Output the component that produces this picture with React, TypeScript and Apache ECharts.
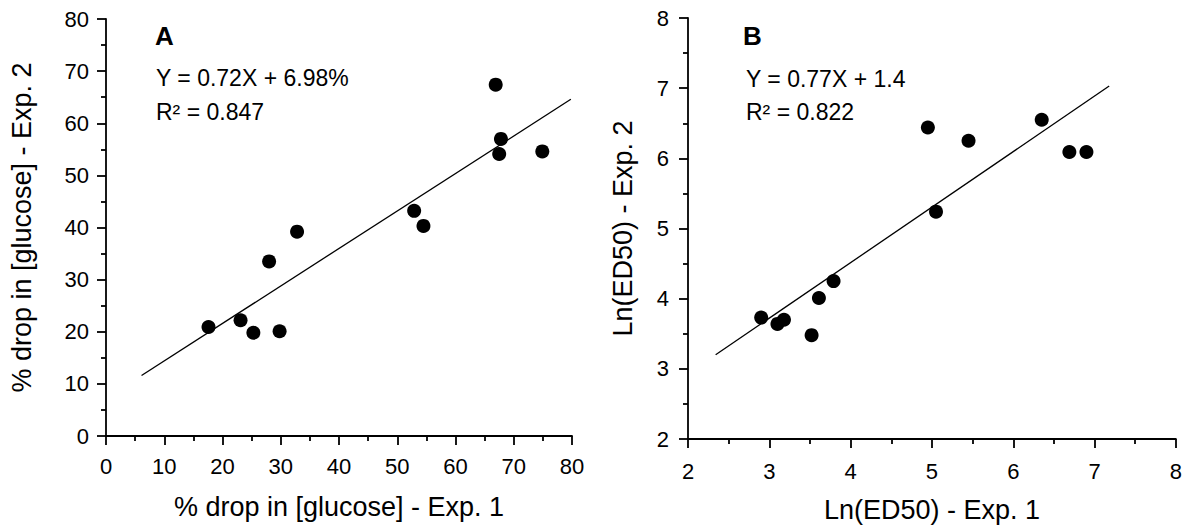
import React, { useEffect, useRef } from "react";
import * as echarts from "echarts";

// Panel A: % drop in [glucose]
const aExp1 = [17.6, 23.1, 25.3, 29.8, 28.0, 32.8, 52.9, 54.5, 66.9, 67.8, 67.5, 74.9];
const aExp2 = [20.9, 22.2, 19.8, 20.1, 33.5, 39.2, 43.2, 40.3, 67.4, 57.0, 54.1, 54.6];
const aFitX = [6.1, 79.8];
const aFitY = [11.6, 64.6];

// Panel B: Ln(ED50)
const bExp1 = [2.9, 3.1, 3.18, 3.52, 3.61, 3.79, 4.95, 5.05, 5.45, 6.35, 6.69, 6.9];
const bExp2 = [3.73, 3.64, 3.7, 3.48, 4.01, 4.25, 6.44, 5.24, 6.25, 6.55, 6.09, 6.09];
const bFitX = [2.34, 7.18];
const bFitY = [3.2, 7.03];

const panelLetters = ["A", "B"];
const equations = ["Y = 0.72X + 6.98%", "Y = 0.77X + 1.4"];
const r2Texts = ["R² = 0.847", "R² = 0.822"];
const xTitles = ["% drop in [glucose] - Exp. 1", "Ln(ED50) - Exp. 1"];
const yTitles = ["% drop in [glucose] - Exp. 2", "Ln(ED50) - Exp. 2"];

const FONT = "'Liberation Sans', Arial, Helvetica, sans-serif";

export default function App() {
  const ref = useRef<HTMLDivElement>(null);

  useEffect(() => {
    if (!ref.current) return;
    const chart = echarts.init(ref.current, undefined, { renderer: "svg" });

    const axisCommon = {
      type: "value" as const,
      axisLine: { show: true, lineStyle: { color: "#000", width: 1.8 } },
      axisTick: { show: true, inside: false, length: 9, lineStyle: { color: "#000", width: 1.8 } },
      minorTick: { show: true, splitNumber: 2, length: 5, lineStyle: { color: "#000", width: 1.8 } },
      splitLine: { show: false },
      minorSplitLine: { show: false },
      axisLabel: { color: "#000", fontSize: 22, fontFamily: FONT },
      nameLocation: "middle" as const,
      nameTextStyle: { color: "#000", fontSize: 27, fontFamily: FONT },
    };

    const zipPts = (xs: number[], ys: number[]) => xs.map((x, i) => [x, ys[i]]);

    const option = {
      animation: false,
      backgroundColor: "#fff",
      grid: [
        { left: 106, top: 19, width: 466, height: 417 },
        { left: 688, top: 18, width: 488, height: 421 },
      ],
      xAxis: [
        {
          ...axisCommon,
          gridIndex: 0,
          min: 0,
          max: 80,
          interval: 10,
          name: xTitles[0],
          nameGap: 57,
          axisLabel: { ...axisCommon.axisLabel, margin: 19 },
        },
        {
          ...axisCommon,
          gridIndex: 1,
          min: 2,
          max: 8,
          interval: 1,
          name: xTitles[1],
          nameGap: 57,
          axisLabel: { ...axisCommon.axisLabel, margin: 21 },
        },
      ],
      yAxis: [
        {
          ...axisCommon,
          gridIndex: 0,
          min: 0,
          max: 80,
          interval: 10,
          name: yTitles[0],
          nameGap: 71,
          axisLabel: { ...axisCommon.axisLabel, margin: 17 },
        },
        {
          ...axisCommon,
          gridIndex: 1,
          min: 2,
          max: 8,
          interval: 1,
          name: yTitles[1],
          nameGap: 52,
          axisLabel: { ...axisCommon.axisLabel, margin: 19 },
        },
      ],
      series: [
        {
          type: "line",
          xAxisIndex: 0,
          yAxisIndex: 0,
          data: zipPts(aFitX, aFitY),
          showSymbol: false,
          symbol: "none",
          lineStyle: { color: "#000", width: 1.3 },
          z: 2,
        },
        {
          type: "scatter",
          xAxisIndex: 0,
          yAxisIndex: 0,
          data: zipPts(aExp1, aExp2),
          symbol: "circle",
          symbolSize: 14,
          itemStyle: { color: "#000", opacity: 1 },
          z: 3,
        },
        {
          type: "line",
          xAxisIndex: 1,
          yAxisIndex: 1,
          data: zipPts(bFitX, bFitY),
          showSymbol: false,
          symbol: "none",
          lineStyle: { color: "#000", width: 1.3 },
          z: 2,
        },
        {
          type: "scatter",
          xAxisIndex: 1,
          yAxisIndex: 1,
          data: zipPts(bExp1, bExp2),
          symbol: "circle",
          symbolSize: 14,
          itemStyle: { color: "#000", opacity: 1 },
          z: 3,
        },
      ],
      graphic: [
        {
          type: "text",
          left: 155,
          top: 23,
          style: { text: panelLetters[0], font: `bold 26px ${FONT}`, fill: "#000" },
        },
        {
          type: "text",
          left: 156,
          top: 66,
          style: { text: equations[0], font: `23px ${FONT}`, fill: "#000" },
        },
        {
          type: "text",
          left: 156,
          top: 100,
          style: { text: r2Texts[0], font: `23px ${FONT}`, fill: "#000" },
        },
        {
          type: "text",
          left: 743,
          top: 23,
          style: { text: panelLetters[1], font: `bold 26px ${FONT}`, fill: "#000" },
        },
        {
          type: "text",
          left: 746,
          top: 67,
          style: { text: equations[1], font: `23px ${FONT}`, fill: "#000" },
        },
        {
          type: "text",
          left: 746,
          top: 100,
          style: { text: r2Texts[1], font: `23px ${FONT}`, fill: "#000" },
        },
      ],
    };

    chart.setOption(option as any);
    return () => chart.dispose();
  }, []);

  return (
    <div
      ref={ref}
      style={{ position: "absolute", left: 0, top: 0, width: 1185, height: 529, background: "#fff" }}
    />
  );
}
